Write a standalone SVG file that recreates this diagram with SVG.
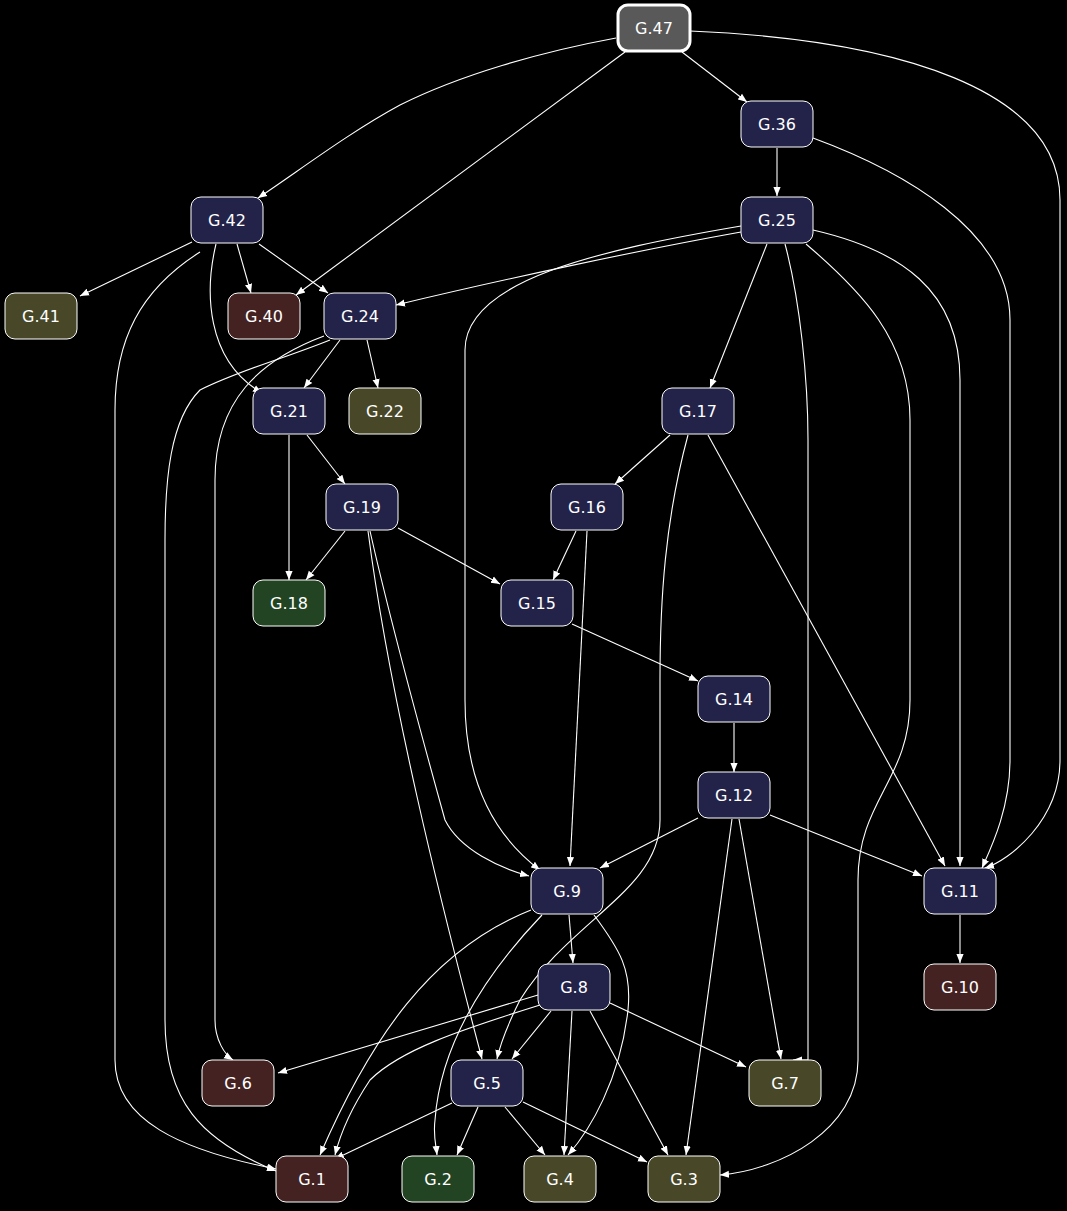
<svg xmlns="http://www.w3.org/2000/svg" width="1067" height="1211" viewBox="0 0 1067 1211">
<style>
.n rect{stroke:#fff;stroke-width:1}
.n text{font-family:"DejaVu Sans",sans-serif;font-size:16px;fill:#fff;text-anchor:middle}
.b rect{fill:#23234a}.r rect{fill:#442222}.o rect{fill:#484828}.g rect{fill:#224422}
#edges path{fill:none;stroke:#fff;stroke-width:1.1;marker-end:url(#a)}
</style>
<defs><marker id="a" viewBox="0 0 10 10" refX="10" refY="5" markerWidth="9" markerHeight="9" markerUnits="userSpaceOnUse" orient="auto"><path d="M0,1L10,5L0,9z" fill="#fff"/></marker></defs>
<rect width="1067" height="1211" fill="#000"/>
<g id="edges">
<path d="M616,38C540,52 460,75 400,105C350,132 300,170 258,198"/>
<path d="M625,52L296,295"/>
<path d="M682,52L747,102"/>
<path d="M690,31C900,40 1060,90 1060,200V760C1060,820 1010,860 985,868"/>
<path d="M777,148V196"/>
<path d="M813,138C900,170 1010,230 1010,320V760C1010,810 990,850 982,868"/>
<path d="M192,242L80,296"/>
<path d="M237,244L251,293"/>
<path d="M259,244L328,293"/>
<path d="M216,244C205,290 205,360 262,393"/>
<path d="M200,252C140,290 115,340 115,410V1060C115,1120 180,1150 276,1169"/>
<path d="M741,232C640,250 500,280 396,305"/>
<path d="M741,226C600,250 465,280 465,350V700C465,790 500,840 540,870"/>
<path d="M767,244L710,388"/>
<path d="M785,244C800,300 808,380 808,440V1060L793,1060"/>
<path d="M806,244C860,290 910,340 910,420V700C910,780 858,800 858,880V1060C858,1130 780,1170 720,1175"/>
<path d="M813,230C900,250 960,290 960,380V866"/>
<path d="M340,340L304,388"/>
<path d="M367,340L378,388"/>
<path d="M324,336C260,360 215,400 215,480V1020C215,1040 225,1055 233,1060"/>
<path d="M330,340C280,360 240,370 200,390C170,420 165,480 165,540V1020C165,1100 200,1140 276,1171"/>
<path d="M289,435V580"/>
<path d="M307,435L345,484"/>
<path d="M345,531L306,580"/>
<path d="M398,528L500,584"/>
<path d="M368,531C390,700 440,900 482,1059"/>
<path d="M370,531C390,620 420,730 445,820C460,850 500,868 529,876"/>
<path d="M670,435L615,484"/>
<path d="M688,435C665,520 660,600 660,680V820C660,890 570,920 520,1000C505,1030 500,1045 497,1059"/>
<path d="M708,435L945,866"/>
<path d="M576,531L553,580"/>
<path d="M587,531L570,866"/>
<path d="M572,624L698,681"/>
<path d="M734,723V772"/>
<path d="M698,818L600,868"/>
<path d="M770,815L922,876"/>
<path d="M739,819L781,1059"/>
<path d="M732,819L686,1155"/>
<path d="M569,915L573,963"/>
<path d="M531,910C430,950 370,1040 320,1155"/>
<path d="M542,915C480,980 440,1050 435,1120C433,1135 436,1145 437,1155"/>
<path d="M594,915C620,950 632,970 628,1010C620,1080 590,1130 568,1155"/>
<path d="M960,915V963"/>
<path d="M538,995L278,1073"/>
<path d="M551,1011L512,1059"/>
<path d="M610,1003L746,1067"/>
<path d="M540,1005C460,1030 400,1050 370,1080C350,1110 340,1135 335,1155"/>
<path d="M572,1011L564,1155"/>
<path d="M590,1011L668,1155"/>
<path d="M452,1103L335,1159"/>
<path d="M478,1107L457,1155"/>
<path d="M505,1107L545,1155"/>
<path d="M523,1102L647,1162"/>
</g>
<g id="G.47" class="n"><rect x="618" y="5" width="72" height="46" rx="10" fill="#595959" style="stroke-width:3"/><text x="654" y="34">G.47</text></g>
<g id="G.36" class="n b"><rect x="741" y="101" width="72" height="46" rx="10"/><text x="777" y="130">G.36</text></g>
<g id="G.42" class="n b"><rect x="191" y="197" width="72" height="46" rx="10"/><text x="227" y="226">G.42</text></g>
<g id="G.25" class="n b"><rect x="741" y="197" width="72" height="46" rx="10"/><text x="777" y="226">G.25</text></g>
<g id="G.41" class="n o"><rect x="5" y="293" width="72" height="46" rx="10"/><text x="41" y="322">G.41</text></g>
<g id="G.40" class="n r"><rect x="228" y="293" width="72" height="46" rx="10"/><text x="264" y="322">G.40</text></g>
<g id="G.24" class="n b"><rect x="324" y="293" width="72" height="46" rx="10"/><text x="360" y="322">G.24</text></g>
<g id="G.21" class="n b"><rect x="253" y="388" width="72" height="46" rx="10"/><text x="289" y="417">G.21</text></g>
<g id="G.22" class="n o"><rect x="349" y="388" width="72" height="46" rx="10"/><text x="385" y="417">G.22</text></g>
<g id="G.17" class="n b"><rect x="662" y="388" width="72" height="46" rx="10"/><text x="698" y="417">G.17</text></g>
<g id="G.19" class="n b"><rect x="326" y="484" width="72" height="46" rx="10"/><text x="362" y="513">G.19</text></g>
<g id="G.16" class="n b"><rect x="551" y="484" width="72" height="46" rx="10"/><text x="587" y="513">G.16</text></g>
<g id="G.18" class="n g"><rect x="253" y="580" width="72" height="46" rx="10"/><text x="289" y="609">G.18</text></g>
<g id="G.15" class="n b"><rect x="501" y="580" width="72" height="46" rx="10"/><text x="537" y="609">G.15</text></g>
<g id="G.14" class="n b"><rect x="698" y="676" width="72" height="46" rx="10"/><text x="734" y="705">G.14</text></g>
<g id="G.12" class="n b"><rect x="698" y="772" width="72" height="46" rx="10"/><text x="734" y="801">G.12</text></g>
<g id="G.9" class="n b"><rect x="531" y="868" width="72" height="46" rx="10"/><text x="567" y="897">G.9</text></g>
<g id="G.11" class="n b"><rect x="924" y="868" width="72" height="46" rx="10"/><text x="960" y="897">G.11</text></g>
<g id="G.8" class="n b"><rect x="538" y="964" width="72" height="46" rx="10"/><text x="574" y="993">G.8</text></g>
<g id="G.10" class="n r"><rect x="924" y="964" width="72" height="46" rx="10"/><text x="960" y="993">G.10</text></g>
<g id="G.6" class="n r"><rect x="202" y="1060" width="72" height="46" rx="10"/><text x="238" y="1089">G.6</text></g>
<g id="G.5" class="n b"><rect x="451" y="1060" width="72" height="46" rx="10"/><text x="487" y="1089">G.5</text></g>
<g id="G.7" class="n o"><rect x="749" y="1060" width="72" height="46" rx="10"/><text x="785" y="1089">G.7</text></g>
<g id="G.1" class="n r"><rect x="276" y="1156" width="72" height="46" rx="10"/><text x="312" y="1185">G.1</text></g>
<g id="G.2" class="n g"><rect x="402" y="1156" width="72" height="46" rx="10"/><text x="438" y="1185">G.2</text></g>
<g id="G.4" class="n o"><rect x="524" y="1156" width="72" height="46" rx="10"/><text x="560" y="1185">G.4</text></g>
<g id="G.3" class="n o"><rect x="648" y="1156" width="72" height="46" rx="10"/><text x="684" y="1185">G.3</text></g>
</svg>
